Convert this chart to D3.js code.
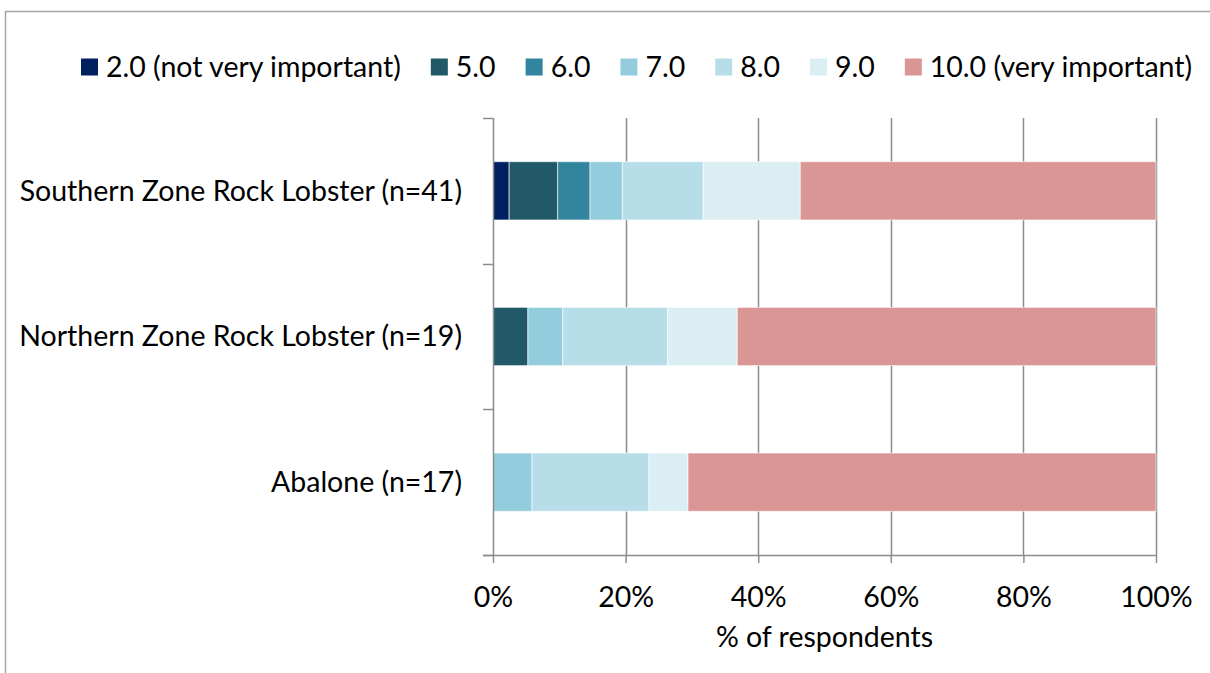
<!DOCTYPE html>
<html>
<head>
<meta charset="utf-8">
<script src="https://cdn.jsdelivr.net/npm/d3@7"></script>
<style>
  html, body { margin: 0; padding: 0; background: #fff; }
  svg text { font-family: Lato, "Open Sans", sans-serif; fill: #000; }
</style>
</head>
<body>
<svg id="chart" width="1210" height="673"></svg>
<script>
// Fisheries and respondent counts
const categories = ["Southern Zone Rock Lobster (n=41)", "Northern Zone Rock Lobster (n=19)", "Abalone (n=17)"];
// Importance ratings (series)
const ratings = ["2.0 (not very important)", "5.0", "6.0", "7.0", "8.0", "9.0", "10.0 (very important)"];
// Respondent counts per rating, one array per fishery
const southernCounts = [1, 3, 2, 2, 5, 6, 22];
const northernCounts = [0, 1, 0, 1, 3, 2, 12];
const abaloneCounts  = [0, 0, 0, 1, 3, 1, 12];
const ratingColors = ["#002060", "#215968", "#31859C", "#93CDDD", "#B7DEE8", "#DAEEF3", "#D99694"];
const xTicks = [0, 0.2, 0.4, 0.6, 0.8, 1.0];

const countsByCategory = [southernCounts, northernCounts, abaloneCounts];
const FONT = 28.5;

// Convert counts to shares of respondents and stack them
const rows = categories.map((c, i) => {
  const total = d3.sum(countsByCategory[i]);
  const row = { category: c };
  ratings.forEach((r, j) => { row[r] = countsByCategory[i][j] / total; });
  return row;
});
const series = d3.stack().keys(ratings)(rows);

const svg = d3.select("#chart");
const W = 1210, H = 673;

// Outer chart-area border (top and left edges visible)
svg.append("path")
  .attr("d", `M5.5,${H} V11.5 H${W}`)
  .attr("fill", "none").attr("stroke", "#a6a6a6").attr("stroke-width", 1.5);

const plot = { left: 493, right: 1156, top: 118, bottom: 555 };

const x = d3.scaleLinear().domain([0, 1]).range([plot.left, plot.right]);
const y = d3.scaleBand().domain(categories).range([plot.top, plot.bottom]).paddingInner(0.6).paddingOuter(0.3);

// Vertical gridlines
svg.append("g").selectAll("line")
  .data(xTicks.slice(1))
  .join("line")
  .attr("x1", d => Math.round(x(d)) + 0.5).attr("x2", d => Math.round(x(d)) + 0.5)
  .attr("y1", plot.top).attr("y2", plot.bottom)
  .attr("stroke", "#8c8c8c").attr("stroke-width", 1.5);

// Stacked bars
svg.append("g").selectAll("g")
  .data(series)
  .join("g")
  .attr("fill", (d, i) => ratingColors[i])
  .selectAll("rect")
  .data(d => d.filter(s => s[1] - s[0] > 0).map(s => Object.assign(s, { cat: s.data.category })))
  .join("rect")
  .attr("x", d => x(d[0]))
  .attr("width", d => x(d[1]) - x(d[0]))
  .attr("y", d => y(d.cat))
  .attr("height", y.bandwidth())
  .attr("stroke", "rgba(255,255,255,0.6)")
  .attr("stroke-width", 1);

// X axis
const xAxis = svg.append("g")
  .attr("transform", `translate(0,${plot.bottom})`)
  .call(d3.axisBottom(x).tickValues(xTicks).tickFormat(d3.format(".0%")).tickSize(8).tickSizeOuter(0));
xAxis.select(".domain").attr("stroke", "#8c8c8c").attr("stroke-width", 1.5)
  .attr("d", `M${plot.left - 10},0.5H${plot.right}`);
xAxis.selectAll(".tick line").attr("stroke", "#8c8c8c").attr("stroke-width", 1.5);
xAxis.selectAll(".tick text").attr("font-size", FONT).attr("dy", 0).attr("y", 52)
  .style("font-family", "Lato, sans-serif");

// Y axis with ticks at category boundaries
const yAxis = svg.append("g").attr("transform", `translate(${plot.left},0)`);
yAxis.append("line")
  .attr("x1", 0.5).attr("x2", 0.5).attr("y1", plot.top).attr("y2", plot.bottom)
  .attr("stroke", "#8c8c8c").attr("stroke-width", 1.5);
const boundaries = d3.range(categories.length + 1).map(i => plot.top + i * (plot.bottom - plot.top) / categories.length);
yAxis.selectAll(".btick")
  .data(boundaries)
  .join("line")
  .attr("class", "btick")
  .attr("x1", -10).attr("x2", 0)
  .attr("y1", d => Math.round(d) + 0.5).attr("y2", d => Math.round(d) + 0.5)
  .attr("stroke", "#8c8c8c").attr("stroke-width", 1.5);
yAxis.selectAll(".clabel")
  .data(categories)
  .join("text")
  .attr("class", "clabel")
  .attr("x", -31)
  .attr("y", d => y(d) + y.bandwidth() / 2)
  .attr("dy", "0.35em")
  .attr("text-anchor", "end")
  .attr("font-size", FONT)
  .text(d => d);

// Axis title
svg.append("text")
  .attr("x", (plot.left + plot.right) / 2)
  .attr("y", 647)
  .attr("text-anchor", "middle")
  .attr("font-size", FONT)
  .text("% of respondents");

// Legend: square, label, laid out in one row
const SQ = 17, TEXT_GAP = 8, ITEM_GAP = 30;
const legend = svg.append("g").attr("transform", "translate(81,67)");
let cursor = 0;
ratings.forEach((r, i) => {
  const item = legend.append("g").attr("transform", `translate(${cursor},0)`);
  item.append("rect").attr("x", 0).attr("y", -SQ / 2).attr("width", SQ).attr("height", SQ).attr("fill", ratingColors[i]);
  const t = item.append("text").attr("x", SQ + TEXT_GAP).attr("dy", "0.35em").attr("font-size", FONT).text(r);
  cursor += SQ + TEXT_GAP + t.node().getComputedTextLength() + ITEM_GAP;
});
</script>
</body>
</html>
